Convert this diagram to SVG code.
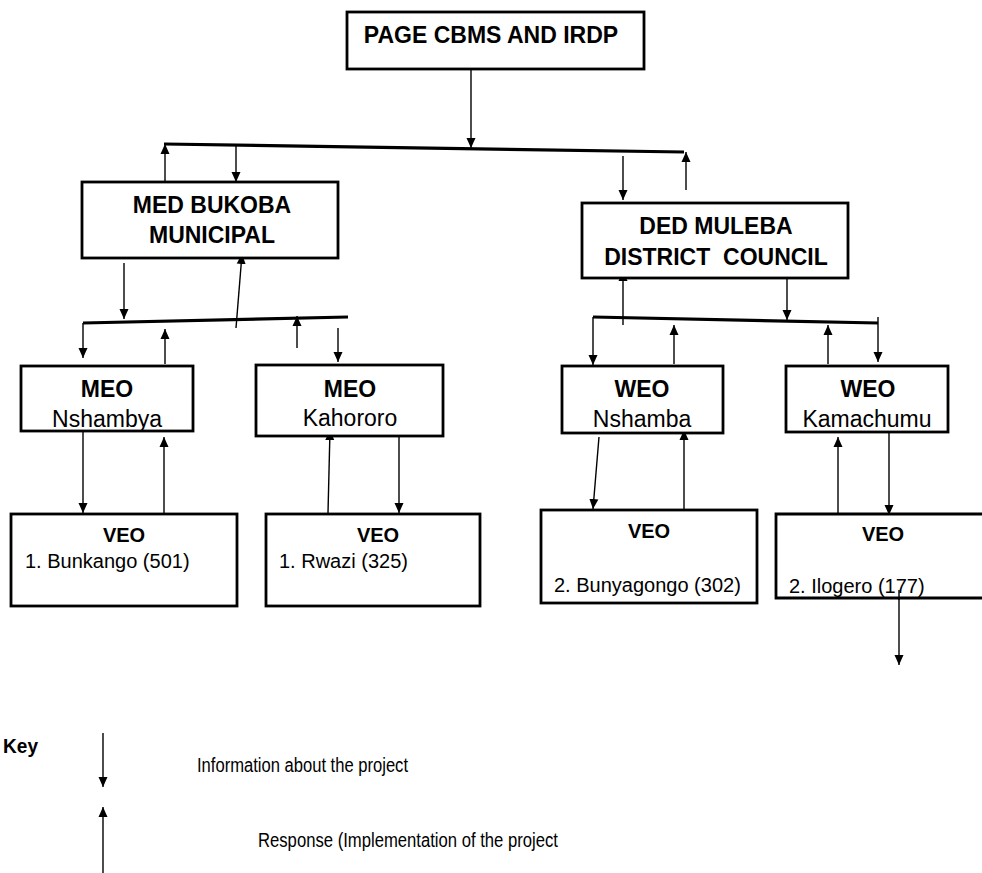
<svg xmlns="http://www.w3.org/2000/svg" width="982" height="873" viewBox="0 0 982 873">
<style>
.box{fill:#fff;stroke:#000;stroke-width:2.8}
.b{font-family:"Liberation Sans",Arial,sans-serif;font-weight:bold;fill:#000}
.r{font-family:"Liberation Sans",Arial,sans-serif;fill:#000}
.c{stroke:#000;stroke-width:1.4;fill:none}
.bus{stroke:#000;stroke-width:3.2;fill:none}
.d{marker-end:url(#ah)}
</style>
<defs>
<marker id="ah" viewBox="0 0 10 10" refX="10" refY="5" markerWidth="10" markerHeight="10" markerUnits="userSpaceOnUse" orient="auto">
<path d="M0,0.5 L10,5 L0,9.5 z" fill="#000"/>
</marker>
</defs>
<rect width="982" height="873" fill="#fff"/>

<g id="connectors">
<line class="bus" x1="164" y1="144" x2="684" y2="152"/>
<line class="bus" x1="83" y1="323" x2="348" y2="317"/>
<line class="bus" x1="593" y1="317" x2="878" y2="323"/>
<line class="c d" x1="471" y1="63" x2="471" y2="148"/>
<line class="c d" x1="165" y1="182" x2="165" y2="144"/>
<line class="c d" x1="236" y1="145" x2="236" y2="182"/>
<line class="c d" x1="623" y1="156" x2="623" y2="200"/>
<line class="c d" x1="686" y1="190" x2="686" y2="152"/>
<line class="c d" x1="124" y1="263" x2="124" y2="319"/>
<line class="c d" x1="236" y1="328" x2="242" y2="254"/>
<line class="c d" x1="83" y1="323" x2="83" y2="358"/>
<line class="c d" x1="165" y1="364" x2="165" y2="329"/>
<line class="c d" x1="297" y1="348" x2="297" y2="316"/>
<line class="c d" x1="338" y1="328" x2="338" y2="362"/>
<line class="c d" x1="83" y1="431" x2="83" y2="513"/>
<line class="c d" x1="164" y1="513" x2="164" y2="437"/>
<line class="c d" x1="328" y1="513" x2="330" y2="430"/>
<line class="c d" x1="399" y1="428" x2="399" y2="513"/>
<line class="c d" x1="623" y1="325" x2="623" y2="271"/>
<line class="c d" x1="787" y1="275" x2="787" y2="320"/>
<line class="c d" x1="593" y1="317" x2="593" y2="365"/>
<line class="c d" x1="674" y1="364" x2="674" y2="325"/>
<line class="c d" x1="828" y1="364" x2="828" y2="325"/>
<line class="c d" x1="878" y1="317" x2="878" y2="362"/>
<line class="c d" x1="599" y1="437" x2="593" y2="509"/>
<line class="c d" x1="684" y1="510" x2="684" y2="430"/>
<line class="c d" x1="838" y1="513" x2="838" y2="437"/>
<line class="c d" x1="889" y1="425" x2="889" y2="515"/>
<line class="c d" x1="899" y1="590" x2="899" y2="665"/>
</g>

<g id="page">
<rect class="box" x="347" y="12" width="297" height="57"/>
<text class="b" x="491" y="43" font-size="23" text-anchor="middle">PAGE CBMS AND IRDP</text>
</g>

<g id="med">
<rect class="box" x="82" y="182" width="256" height="76"/>
<text class="b" x="212" y="213" font-size="23" text-anchor="middle">MED BUKOBA</text>
<text class="b" x="212" y="243" font-size="23" text-anchor="middle">MUNICIPAL</text>
</g>

<g id="ded">
<rect class="box" x="582" y="203" width="266" height="75"/>
<text class="b" x="716" y="234" font-size="23" text-anchor="middle">DED MULEBA</text>
<text class="b" x="716" y="265" font-size="23" text-anchor="middle" xml:space="preserve">DISTRICT  COUNCIL</text>
</g>

<g id="meo-nshambya">
<rect class="box" x="21" y="366" width="172" height="65"/>
<text class="b" x="107" y="397" font-size="23" text-anchor="middle">MEO</text>
<text class="r" x="107" y="427" font-size="23" text-anchor="middle">Nshambya</text>
</g>

<g id="meo-kahororo">
<rect class="box" x="256" y="365" width="187" height="71"/>
<text class="b" x="350" y="397" font-size="23" text-anchor="middle">MEO</text>
<text class="r" x="350" y="426" font-size="23" text-anchor="middle">Kahororo</text>
</g>

<g id="weo-nshamba">
<rect class="box" x="562" y="366" width="161" height="67"/>
<text class="b" x="642" y="397" font-size="23" text-anchor="middle">WEO</text>
<text class="r" x="642" y="427" font-size="23" text-anchor="middle">Nshamba</text>
</g>

<g id="weo-kamachumu">
<rect class="box" x="786" y="366" width="162" height="66"/>
<text class="b" x="868" y="397" font-size="23" text-anchor="middle">WEO</text>
<text class="r" x="867" y="427" font-size="23" text-anchor="middle">Kamachumu</text>
</g>

<g id="veo-bunkango">
<rect class="box" x="11" y="514" width="226" height="92"/>
<text class="b" x="124" y="542" font-size="20" text-anchor="middle">VEO</text>
<text class="r" x="25" y="568" font-size="20">1. Bunkango (501)</text>
</g>

<g id="veo-rwazi">
<rect class="box" x="266" y="514" width="214" height="92"/>
<text class="b" x="378" y="542" font-size="20" text-anchor="middle">VEO</text>
<text class="r" x="279" y="568" font-size="20">1. Rwazi (325)</text>
</g>

<g id="veo-bunyagongo">
<rect class="box" x="541" y="510" width="216" height="93"/>
<text class="b" x="649" y="538" font-size="20" text-anchor="middle">VEO</text>
<text class="r" x="554" y="592" font-size="20">2. Bunyagongo (302)</text>
</g>

<g id="veo-ilogero">
<path d="M990,514 H776 V598 H990" fill="#fff" stroke="#000" stroke-width="2.8"/>
<text class="b" x="883" y="541" font-size="20" text-anchor="middle">VEO</text>
<text class="r" x="789" y="593" font-size="20">2. Ilogero (177)</text>
<line class="c" x1="899" y1="590" x2="899" y2="600"/>
</g>

<g id="key">
<text class="b" x="3" y="753" font-size="20" textLength="35" lengthAdjust="spacingAndGlyphs">Key</text>
<line class="c d" x1="103" y1="733" x2="103" y2="787"/>
<line class="c d" x1="103" y1="873" x2="103" y2="807"/>
<text class="r" x="197" y="772" font-size="20" textLength="211" lengthAdjust="spacingAndGlyphs">Information about the project</text>
<text class="r" x="258" y="847" font-size="20" textLength="300" lengthAdjust="spacingAndGlyphs">Response (Implementation of the project</text>
</g>
</svg>
